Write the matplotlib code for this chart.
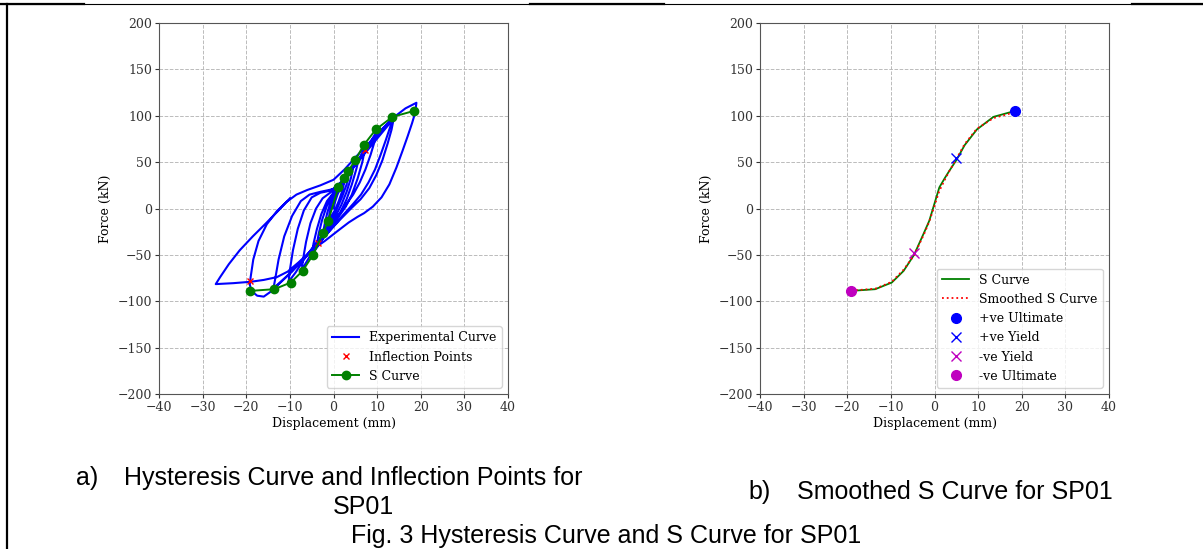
"""
Hysteresis curve and S curve for SP01 (Fig. 3)
"""

import matplotlib
matplotlib.use("Agg")
import matplotlib.pyplot as plt
import numpy as np

exp_x = [0, 0.4, 0.9, 1.6, 2.4,
         2.0, 1.2, 0.3, -0.5, -1.2,
         -0.9, -0.4, 0.3, 1.2, 2.3, 3.4,
         3.0, 2.0, 1.0, 0, -1.2, -2.4,
         -2.0, -1.4, -0.6, 0.4, 1.6, 3.2, 4.5,
         4.0, 3.0, 1.8, 0.5, -1, -2.5, -3.8,
         -3.4, -2.6, -1.6, -0.4, 1, 2.8, 4.6, 5.8,
         5.2, 4.2, 3, 1.6, 0, -1.8, -3.5, -5,
         -4.6, -3.8, -2.8, -1.5, 0, 1.8, 4, 6, 7.2,
         6.6, 5.5, 4.2, 2.8, 1, -1, -3, -5, -6.5, -7.3,
         -7, -6.3, -5.3, -4, -2.5, -0.5, 1.5, 4, 6.5, 8.5, 10,
         9.4, 8.5, 7.3, 6, 4.5, 3, 1, -1.5, -4, -6.5, -8.7, -10.3,
         -10, -9.3, -8.2, -6.8, -5, -3, -1, 1, 3.5, 6, 9, 11.5, 13.7,
         13, 12, 10.8, 9.5, 8, 6.3, 4.5, 2, -0.5, -3.5, -6.5, -9.5, -12, -13.8,
         -13.3, -12.6, -11.3, -9.5, -7.5, -5.5, -3, 0, 2.5, 5, 8, 11, 13.8,
         13.3, 12.4, 11.2, 9.8, 8.2, 6.2, 4, 1.5, -1.5, -4.5, -7.5, -10.5, -12.8, -14.5, -16, -17.5, -18.8, -19.2,
         -19, -18.4, -17.2, -15.3, -13, -10.8, -8.5, -6, -3, 0, 2.5, 5, 8, 11, 14, 16.5, 19,
         18.7, 18, 17, 15.8, 14.4, 12.8, 11, 9, 7, 5.5, 3.5, 1, -2, -5, -8, -10.5, -13, -16, -19, -23, -27,
         -26, -24, -21.5, -18.5, -15.5, -13, -11, -10]
exp_y = [0, 8, 15, 22, 27,
         19, 8, -2, -8, -13,
         -5, 5, 14, 21, 27, 35,
         26, 13, 2, -8, -18, -26,
         -16, -4, 8, 18, 25, 35, 44,
         33, 18, 4, -8, -19, -30, -38,
         -27, -12, 2, 14, 22, 32, 45, 54,
         42, 26, 10, -4, -16, -28, -40, -50,
         -38, -22, -6, 8, 17, 25, 40, 55, 64,
         50, 32, 15, 2, -10, -22, -35, -48, -60, -67,
         -55, -36, -16, 0, 11, 18, 25, 42, 58, 72, 84,
         72, 58, 42, 28, 15, 5, -8, -22, -37, -53, -69, -79,
         -66, -45, -22, -2, 12, 17, 19, 24, 38, 53, 72, 87, 98,
         88, 74, 58, 42, 28, 15, 5, -8, -22, -38, -53, -68, -79, -87,
         -74, -55, -30, -8, 8, 15, 18, 21, 32, 47, 64, 81, 97,
         85, 70, 52, 36, 22, 10, 0, -12, -27, -42, -57, -72, -82, -90, -95, -94, -89, -82,
         -74, -55, -35, -17, -3, 7, 15, 20, 25, 31, 42, 55, 70, 85, 99, 108, 114,
         103, 92, 78, 62, 44, 26, 12, 2, -5, -9, -15, -24, -35, -45, -58, -68, -74, -77, -79, -80.5, -81.5,
         -74, -60, -45, -30, -16, -4, 6, 11]

# Points d'inflexion
infl_x = [-19.1, -3.5, 7.2]
infl_y = [-77.7, -36.8, 63.0]

# Courbe S
s_x = [-19.1, -13.6, -9.8, -7.1, -4.7, -2.4, -1.2, 1.1, 2.4, 3.4, 5.0, 6.9, 9.7, 13.5, 18.5]
s_y = [-88.8, -87.0, -79.8, -67.3, -50.0, -26.0, -13.1, 22.8, 33.2, 40.7, 52.2, 68.3, 85.2, 98.8, 105.3]
s_smooth_y = [-88.5, -86.5, -79.0, -66.0, -50.5, -27.5, -14.0, 19.0, 31.5, 40.5, 53.5, 69.5, 86.0, 97.5, 104.0]

# Points caractéristiques
pos_ult = (18.5, 105.3)
pos_yield = (4.9, 54.0)
neg_yield = (-4.8, -48.5)
neg_ult = (-19.1, -88.8)

plt.rcParams['font.family'] = ['DejaVu Serif']
plt.rcParams['font.size'] = 9

fig = plt.figure(figsize=(12.03, 5.49), dpi=100)


def style(ax):
    ax.set_xlim(-40, 40)
    ax.set_ylim(-200, 200)
    ax.set_xticks(np.arange(-40, 41, 10))
    ax.set_yticks(np.arange(-200, 201, 50))
    ax.grid(True, linestyle='--', color='#bbbbbb', linewidth=0.7)
    ax.set_xlabel('Displacement (mm)', labelpad=2)
    ax.set_ylabel('Force (kN)', labelpad=4)
    for sp in ax.spines.values():
        sp.set_color('#555555')
    ax.tick_params(colors='#333333', length=3, pad=2)


# a) Courbe d'hystérésis
ax1 = fig.add_axes([0.1322, 0.2823, 0.2901, 0.6758])
ax1.plot(exp_x, exp_y, color='blue', lw=1.5, label='Experimental Curve')
ax1.plot(infl_x, infl_y, 'x', color='red', ms=5, label='Inflection Points')
ax1.plot(s_x, s_y, '-o', color='green', ms=6, lw=1.4, label='S Curve')
style(ax1)
ax1.legend(loc='lower right', fontsize=9, framealpha=0.8, borderpad=0.4, handlelength=2.2)

# b) Courbe S lissée
ax2 = fig.add_axes([0.6318, 0.2823, 0.2901, 0.6758])
ax2.plot(s_x, s_y, '-', color='green', lw=1.3, label='S Curve')
ax2.plot(s_x, s_smooth_y, ':', color='red', lw=1.3, label='Smoothed S Curve')
ax2.plot(*pos_ult, 'o', color='blue', ms=7, label='+ve Ultimate')
ax2.plot(*pos_yield, 'x', color='blue', ms=7, label='+ve Yield')
ax2.plot(*neg_yield, 'x', color='m', ms=7, label='-ve Yield')
ax2.plot(*neg_ult, 'o', color='m', ms=7, label='-ve Ultimate')
style(ax2)
ax2.legend(loc='lower right', fontsize=9, framealpha=0.8, borderpad=0.4, handlelength=2.2)

# Légendes de la figure
cap = dict(family='Liberation Sans', fontsize=18, color='black')
fig.text(76 / 1203, 1 - 478 / 549, 'a)', va='center', **cap)
fig.text(124 / 1203, 1 - 478 / 549, 'Hysteresis Curve and Inflection Points for', va='center', **cap)
fig.text(363 / 1203, 1 - 507 / 549, 'SP01', va='center', ha='center', **cap)
fig.text(748 / 1203, 1 - 492 / 549, 'b)', va='center', **cap)
fig.text(797 / 1203, 1 - 492 / 549, 'Smoothed S Curve for SP01', va='center', **cap)
fig.text(606 / 1203, 1 - 536 / 549, 'Fig. 3 Hysteresis Curve and S Curve for SP01',
         va='center', ha='center', **cap)

# Bordures du tableau
fig.add_artist(plt.Line2D([0, 1], [1 - 3.5 / 549] * 2, color='black', lw=0.8))
for x0, x1 in [(0, 84), (530, 664), (1132, 1203)]:
    fig.add_artist(plt.Line2D([x0 / 1203, x1 / 1203], [1 - 3.5 / 549] * 2, color='black', lw=1.6))
fig.add_artist(plt.Line2D([6.5 / 1203] * 2, [0, 1 - 3.5 / 549], color='black', lw=1.6))

fig.savefig('out.png', dpi=100)
